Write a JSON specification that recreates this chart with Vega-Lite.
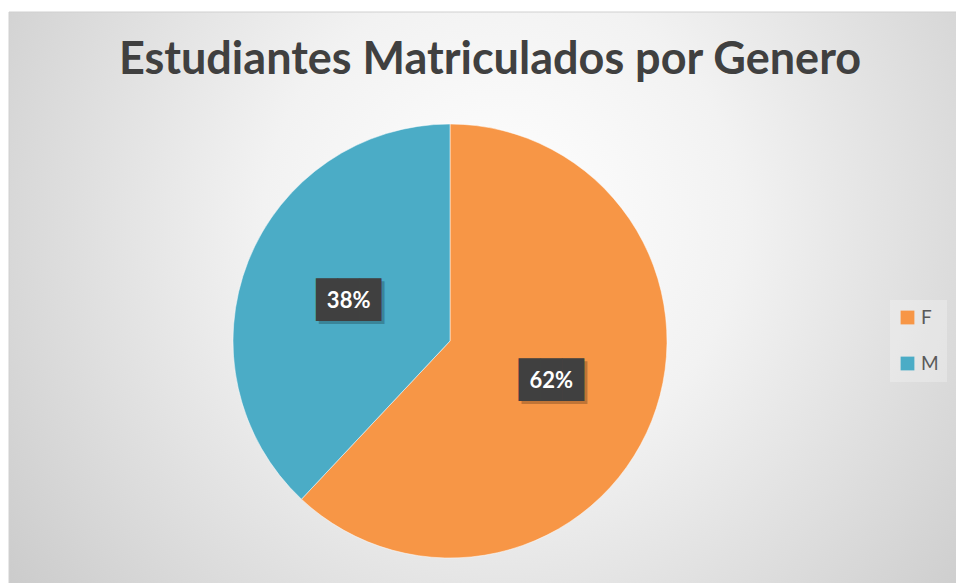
{
  "$schema": "https://vega.github.io/schema/vega-lite/v6.json",
  "width": 948,
  "height": 572,
  "padding": {"left": 8, "top": 11, "right": 0, "bottom": 0},
  "background": "white",
  "config": {"view": {"stroke": null}},
  "title": {
    "text": "Estudiantes Matriculados por Genero",
    "font": "Lato",
    "fontSize": 45,
    "fontWeight": "bold",
    "color": "#404040",
    "anchor": "middle",
    "frame": "group",
    "baseline": "alphabetic",
    "offset": -107,
    "dx": 7
  },
  "layer": [
    {
      "data": {"values": [{"fondo": 1}]},
      "mark": {
        "type": "rect",
        "stroke": "#d0d0d0",
        "strokeWidth": 1,
        "color": {
          "gradient": "radial",
          "x1": 0.52, "y1": 0.42, "x2": 0.52, "y2": 0.42,
          "r1": 0, "r2": 0.72,
          "stops": [
            {"offset": 0, "color": "#ffffff"},
            {"offset": 0.35, "color": "#f2f2f2"},
            {"offset": 1, "color": "#c4c4c4"}
          ]
        }
      },
      "encoding": {}
    },
    {
      "data": {
        "values": [
          {"genero": "F", "porcentaje": 0.62},
          {"genero": "M", "porcentaje": 0.38}
        ]
      },
      "encoding": {
        "theta": {"field": "porcentaje", "type": "quantitative", "stack": true},
        "detail": {"field": "genero", "type": "nominal"},
        "order": {"field": "genero", "type": "nominal", "sort": "ascending"}
      },
      "layer": [
        {
          "mark": {"type": "arc", "outerRadius": 217, "x": {"expr": "width/2 - 33"}, "y": {"expr": "height/2 + 43"}, "stroke": "white", "strokeWidth": 0.5},
          "encoding": {
            "color": {
              "field": "genero",
              "type": "nominal",
              "scale": {"domain": ["F", "M"], "range": ["#F79646", "#4BACC6"]},
              "legend": {
                "orient": "none",
                "legendX": 881,
                "legendY": 288,
                "title": null,
                "symbolType": "square",
                "symbolSize": 190,
                "symbolStrokeWidth": 0,
                "labelFont": "Lato",
                "labelFontSize": 19,
                "labelColor": "#595959",
                "labelOffset": 4,
                "rowPadding": 26,
                "padding": 8,
                "fillColor": "rgba(255,255,255,0.25)"
              }
            }
          }
        },
        {
          "mark": {"type": "text", "radius": 109, "x": {"expr": "width/2 - 33"}, "y": {"expr": "height/2 + 43"}, "font": "DejaVu Sans Mono", "fontSize": 36, "align": "center", "baseline": "middle", "dx": 3, "dy": 3, "fill": "black", "opacity": 0.22},
          "encoding": {"text": {"value": "███"}}
        },
        {
          "mark": {"type": "text", "radius": 109, "x": {"expr": "width/2 - 33"}, "y": {"expr": "height/2 + 43"}, "font": "DejaVu Sans Mono", "fontSize": 36, "align": "center", "baseline": "middle", "fill": "#404040"},
          "encoding": {"text": {"value": "███"}}
        },
        {
          "mark": {"type": "text", "radius": 109, "x": {"expr": "width/2 - 33"}, "y": {"expr": "height/2 + 43"}, "font": "Lato", "fontSize": 22, "fontWeight": "bold", "align": "center", "baseline": "middle", "fill": "white"},
          "encoding": {"text": {"field": "porcentaje", "type": "quantitative", "format": ".0%"}}
        }
      ]
    }
  ]
}
